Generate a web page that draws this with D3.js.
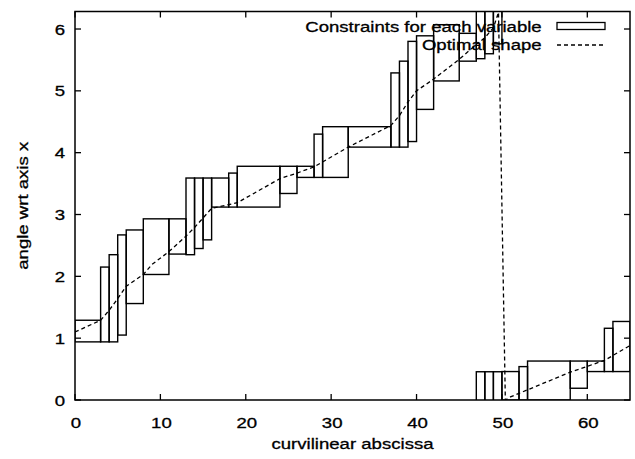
<!DOCTYPE html>
<html>
<head>
<meta charset="utf-8">
<script src="https://cdn.jsdelivr.net/npm/d3@7"></script>
<style>
  body { margin: 0; background: #fff; }
  svg { display: block; }
  text { font-family: "Liberation Sans", Arial, Helvetica, sans-serif; font-size: 15px; fill: #000; stroke: #000; stroke-width: 0.3; }
</style>
</head>
<body>
<svg id="chart" width="635" height="459"></svg>
<script>
// constraint boxes, one per variable : abscissa interval and angle interval
const boxStart = [0, 3, 4, 5, 6, 8, 11, 13, 14, 15, 16, 18, 19, 24, 26, 28, 29, 32, 37, 38, 39, 40, 42, 45, 47, 48, 49, 50, 52, 53, 58, 60, 62, 63];
const boxEnd   = [3, 4, 5, 6, 8, 11, 13, 14, 15, 16, 18, 19, 24, 26, 28, 29, 32, 37, 38, 39, 40, 42, 45, 47, 48, 49, 50, 52, 53, 58, 60, 62, 63, 65];
const boxLow   = [0.94, 0.94, 0.94, 1.05, 1.56, 2.03, 2.36, 2.35, 2.45, 2.59, 3.12, 3.12, 3.12, 3.34, 3.60, 3.60, 3.60, 4.09, 4.09, 4.09, 4.18, 4.70, 5.16, 5.48, 5.52, 5.60, 5.76, 0, 0, 0, 0.19, 0.46, 0.46, 0.46];
const boxHigh  = [1.29, 2.15, 2.35, 2.67, 2.75, 2.93, 2.93, 3.59, 3.59, 3.59, 3.59, 3.67, 3.78, 3.78, 3.78, 4.30, 4.42, 4.42, 5.29, 5.48, 5.80, 5.89, 6.07, 5.93, 6.74, 6.74, 6.74, 0.46, 0.54, 0.63, 0.63, 0.63, 1.16, 1.27];

// optimal shape (angle wraps at 2*pi near s = 50)
const shapeX = [0, 3, 4, 5, 6, 8, 9, 11, 13, 14, 16, 19, 24, 26, 28, 29, 32, 37, 38, 39, 40, 42, 45, 47, 48, 49, 49.6, 50.4, 51, 58, 62, 65];
const shapeY = [1.10, 1.29, 1.45, 1.64, 1.84, 2.03, 2.19, 2.40, 2.65, 2.79, 3.10, 3.19, 3.58, 3.67, 3.77, 3.85, 4.09, 4.44, 4.60, 4.82, 5.00, 5.19, 5.51, 5.75, 5.86, 6.02, 6.27, 0.00, 0.05, 0.45, 0.64, 0.88];

const xTicks = [0, 10, 20, 30, 40, 50, 60];
const yTicks = [0, 1, 2, 3, 4, 5, 6];
const legendLabels = ["Constraints for each variable", "Optimal shape"];

const TWO_PI = 2 * Math.PI;
const stretch = 1.24; // glyphs are wider than the usual helvetica

const svg = d3.select("#chart");
const plot = { left: 75, right: 630, top: 11.5, bottom: 400 };

const x = d3.scaleLinear().domain([0, 65]).range([plot.left, plot.right]);
const y = d3.scaleLinear().domain([0, TWO_PI]).range([plot.bottom, plot.top]);

svg.append("defs").append("clipPath").attr("id", "clip")
  .append("rect")
    .attr("x", plot.left).attr("y", plot.top)
    .attr("width", plot.right - plot.left)
    .attr("height", plot.bottom - plot.top);

const label = (g, str, tx, ty, anchor, rot) => {
  g.append("text")
    .attr("transform", "translate(" + tx + "," + ty + ")" + (rot ? " rotate(" + rot + ")" : "") + " scale(" + stretch + ",1)")
    .attr("text-anchor", anchor)
    .text(str);
};

// boxes (plus the wrapped copy for those going past 2*pi)
const boxes = boxStart.map((s, i) => ({ s0: s, s1: boxEnd[i], lo: boxLow[i], hi: boxHigh[i] }));
const pieces = [];
boxes.forEach(b => {
  pieces.push(b);
  if (b.hi > TWO_PI) pieces.push({ s0: b.s0, s1: b.s1, lo: b.lo - TWO_PI, hi: b.hi - TWO_PI });
});

const dataG = svg.append("g").attr("clip-path", "url(#clip)");
dataG.selectAll("rect.box")
  .data(pieces)
  .join("rect")
    .attr("class", "box")
    .attr("x", d => x(d.s0))
    .attr("y", d => y(d.hi))
    .attr("width", d => x(d.s1) - x(d.s0))
    .attr("height", d => y(d.lo) - y(d.hi))
    .attr("fill", "none")
    .attr("stroke", "#000")
    .attr("stroke-width", 1.4);

const line = d3.line().x((d, i) => x(shapeX[i])).y(d => y(d));
dataG.append("path")
  .attr("d", line(shapeY))
  .attr("fill", "none")
  .attr("stroke", "#000")
  .attr("stroke-width", 1.3)
  .attr("stroke-dasharray", "4,3");

// frame + ticks (mirrored, pointing inward)
const axG = svg.append("g");
axG.append("rect")
  .attr("x", plot.left).attr("y", plot.top)
  .attr("width", plot.right - plot.left)
  .attr("height", plot.bottom - plot.top)
  .attr("fill", "none").attr("stroke", "#000").attr("stroke-width", 1.5);

const tick = 6;
xTicks.forEach(t => {
  axG.append("line").attr("x1", x(t)).attr("x2", x(t)).attr("y1", plot.bottom).attr("y2", plot.bottom - tick).attr("stroke", "#000").attr("stroke-width", 1.3);
  axG.append("line").attr("x1", x(t)).attr("x2", x(t)).attr("y1", plot.top).attr("y2", plot.top + tick).attr("stroke", "#000").attr("stroke-width", 1.3);
  label(axG, t, x(t) + 1, 428, "middle");
});
yTicks.forEach(t => {
  axG.append("line").attr("x1", plot.left).attr("x2", plot.left + tick).attr("y1", y(t)).attr("y2", y(t)).attr("stroke", "#000").attr("stroke-width", 1.3);
  axG.append("line").attr("x1", plot.right).attr("x2", plot.right - tick).attr("y1", y(t)).attr("y2", y(t)).attr("stroke", "#000").attr("stroke-width", 1.3);
  label(axG, t, 65, y(t) + 5.5, "end");
});

label(axG, "curvilinear abscissa", (plot.left + plot.right) / 2, 449, "middle");
label(axG, "angle wrt axis x", 28, (plot.top + plot.bottom) / 2, "middle", -90);

// legend
const legG = svg.append("g");
label(legG, legendLabels[0], 541.7, 31.5, "end");
label(legG, legendLabels[1], 541.7, 50, "end");
legG.append("rect")
  .attr("x", 557).attr("y", 22.5).attr("width", 48).attr("height", 7)
  .attr("fill", "none").attr("stroke", "#000").attr("stroke-width", 1.3);
legG.append("line")
  .attr("x1", 557).attr("x2", 605).attr("y1", 45).attr("y2", 45)
  .attr("stroke", "#000").attr("stroke-width", 1.3).attr("stroke-dasharray", "4,3");
</script>
</body>
</html>
